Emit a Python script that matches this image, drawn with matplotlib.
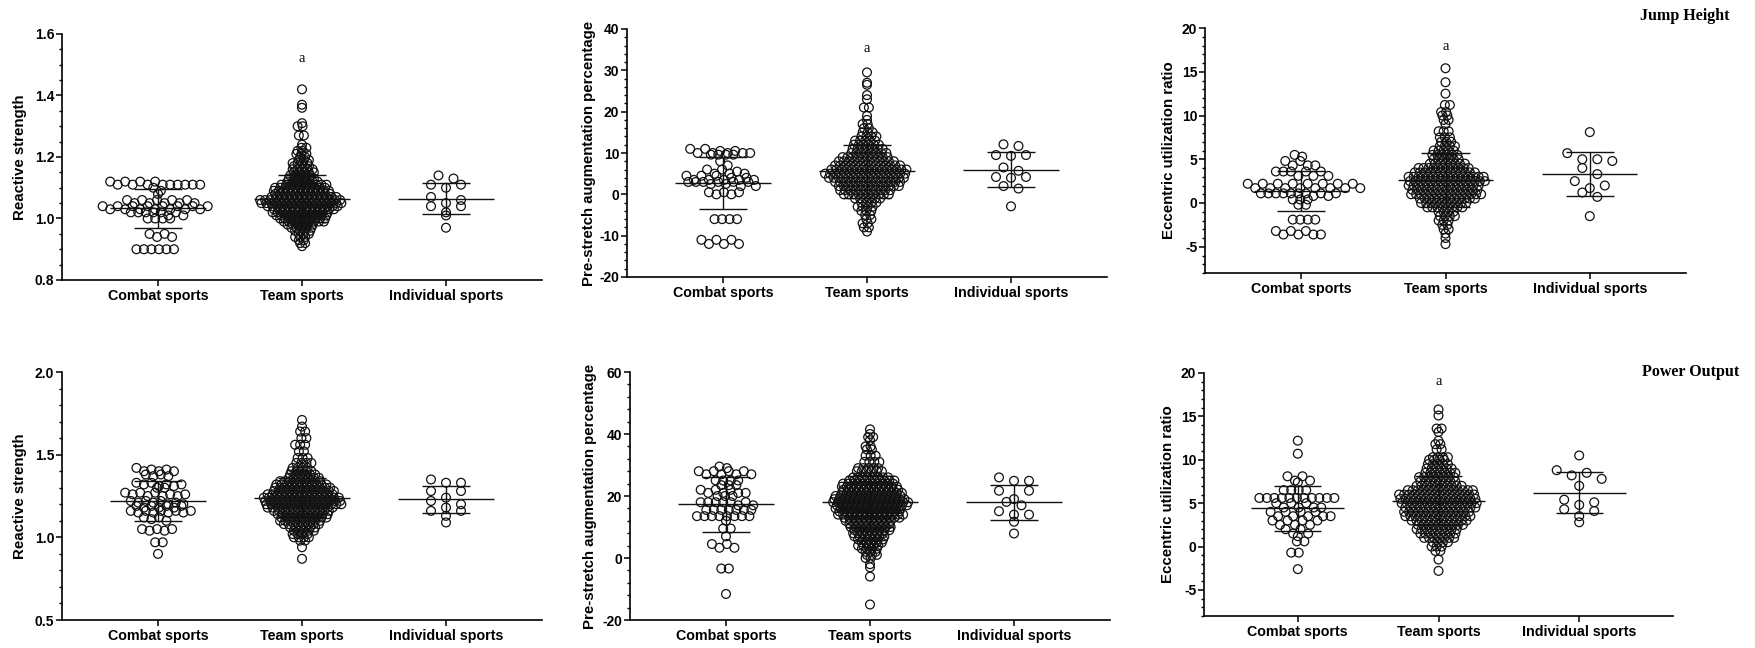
import numpy as np
import matplotlib
matplotlib.use("Agg")
import matplotlib.pyplot as plt
from matplotlib.ticker import MultipleLocator, FixedLocator

plt.rcParams['font.family'] = ['Liberation Sans', 'DejaVu Sans']
plt.rcParams['axes.unicode_minus'] = False

groups = ['Combat sports', 'Team sports', 'Individual sports']

# ---- Jump height: reactive strength ----
rsi_jh_combat_lv = [1.12, 1.11, 1.10, 1.09, 1.08, 1.06, 1.05, 1.04, 1.03, 1.02, 1.01, 1.00, 0.95, 0.94, 0.90]
rsi_jh_combat_n = [4, 9, 1, 1, 1, 5, 5, 8, 7, 6, 2, 4, 2, 2, 6]
rsi_jh_team_lv = [1.42, 1.37, 1.36, 1.31, 1.30, 1.27, 1.24, 1.23, 1.22, 1.21, 1.20, 1.19, 1.18, 1.17,
                  1.16, 1.15, 1.14, 1.13, 1.12, 1.11, 1.10, 1.09, 1.08, 1.07, 1.06, 1.05, 1.04, 1.03,
                  1.02, 1.01, 1.00, 0.99, 0.98, 0.97, 0.96, 0.95, 0.94, 0.93, 0.92, 0.91]
rsi_jh_team_n = [1, 1, 1, 1, 2, 2, 1, 2, 2, 3, 2, 3, 4, 4, 5, 5, 5, 6, 7, 10, 11, 12, 12, 14, 17, 17,
                 15, 13, 12, 11, 10, 9, 6, 5, 4, 3, 3, 2, 2, 1]
rsi_jh_indiv = [1.14, 1.13, 1.11, 1.11, 1.10, 1.07, 1.06, 1.05, 1.04, 1.04, 1.02, 1.01, 0.97]
rsi_jh_mean = [1.033, 1.065, 1.065]
rsi_jh_sd = [0.063, 0.075, 0.050]

# ---- Jump height: pre-stretch augmentation ----
psa_jh_combat_lv = [11, 10.5, 10, 9.6, 8, 7, 6, 5.5, 5, 4.5, 4, 3.5, 3, 2.5, 2, 0.5, 0, -6, -11, -12]
psa_jh_combat_n = [2, 2, 5, 4, 1, 1, 2, 1, 3, 3, 2, 5, 6, 2, 2, 3, 2, 4, 3, 3]
psa_jh_team_lv = [29.5, 27, 26.5, 24, 23, 21, 19, 18, 17, 16, 15, 14, 13, 12, 11, 10, 9, 8, 7, 6, 5, 4,
                  3, 2, 1, 0, -1, -2, -3, -4, -5, -6, -7, -8, -9]
psa_jh_team_n = [1, 1, 1, 1, 1, 2, 1, 1, 2, 2, 3, 4, 5, 6, 7, 8, 10, 12, 14, 16, 17, 16, 14, 13, 11, 10,
                 6, 4, 4, 3, 2, 2, 2, 2, 1]
psa_jh_indiv = [12.1, 11.7, 9.5, 9.5, 9.3, 6.5, 5.7, 4.2, 4.2, 4.0, 2.0, 1.4, -2.9]
psa_jh_mean = [2.75, 5.6, 6.0]
psa_jh_sd = [6.35, 6.4, 4.3]

# ---- Jump height: eccentric utilization ratio ----
eur_jh_combat_lv = [5.5, 5.3, 4.8, 4.3, 3.6, 3.1, 2.2, 1.7, 1.1, 0.8, 0.4, -0.2, -1.9, -3.2, -3.6]
eur_jh_combat_n = [1, 1, 2, 3, 5, 3, 8, 8, 9, 2, 3, 2, 4, 3, 4]
eur_jh_team_lv = [15.4, 13.8, 12.5, 11.2, 10.4, 10, 9.5, 9, 8.2, 7.5, 7, 6.5, 6, 5.5, 5, 4.5, 4, 3.5, 3,
                  2.5, 2, 1.5, 1, 0.5, 0, -0.5, -1, -1.5, -2, -2.5, -3, -3.5, -4, -4.7]
eur_jh_team_n = [1, 1, 1, 2, 2, 2, 2, 1, 3, 3, 3, 4, 5, 6, 6, 8, 11, 13, 16, 16, 15, 14, 15, 12, 10, 8,
                 4, 4, 3, 2, 2, 1, 1, 1]
eur_jh_indiv = [8.1, 5.7, 5.0, 5.0, 4.8, 4.0, 3.3, 2.5, 2.0, 1.7, 1.2, 0.7, -1.5]
eur_jh_mean = [1.35, 2.6, 3.3]
eur_jh_sd = [2.3, 3.1, 2.5]

# ---- Power output: reactive strength ----
rsi_po_combat_lv = [1.42, 1.41, 1.40, 1.38, 1.37, 1.33, 1.32, 1.31, 1.30, 1.27, 1.26, 1.25, 1.22, 1.21,
                    1.20, 1.19, 1.18, 1.16, 1.15, 1.12, 1.11, 1.10, 1.05, 1.04, 0.97, 0.90]
rsi_po_combat_n = [1, 2, 3, 2, 2, 2, 3, 2, 2, 3, 3, 3, 3, 3, 2, 4, 3, 5, 4, 2, 1, 1, 3, 2, 2, 1]
rsi_po_team_lv = [1.71, 1.67, 1.64, 1.60, 1.56, 1.52, 1.48, 1.45, 1.42, 1.40, 1.38, 1.36, 1.34, 1.32,
                  1.30, 1.28, 1.26, 1.24, 1.22, 1.20, 1.18, 1.16, 1.14, 1.12, 1.10, 1.08, 1.06, 1.04,
                  1.02, 1.00, 0.98, 0.94, 0.87]
rsi_po_team_n = [1, 1, 2, 2, 3, 2, 3, 4, 4, 5, 6, 7, 9, 11, 12, 13, 14, 16, 16, 16, 14, 12, 11, 10, 9,
                 8, 6, 5, 4, 4, 2, 1, 1]
rsi_po_indiv = [1.35, 1.33, 1.33, 1.28, 1.28, 1.24, 1.22, 1.20, 1.18, 1.16, 1.16, 1.13, 1.09]
rsi_po_mean = [1.22, 1.24, 1.23]
rsi_po_sd = [0.12, 0.12, 0.08]

# ---- Power output: pre-stretch augmentation ----
psa_po_combat_lv = [29.5, 29, 28, 27, 25, 23.5, 22, 21, 20, 18, 17, 15.5, 13.5, 12, 9.5, 7, 4.5, 3.3,
                    -3.4, -11.6]
psa_po_combat_n = [1, 1, 4, 4, 4, 3, 3, 4, 3, 6, 2, 7, 8, 1, 2, 1, 2, 2, 2, 1]
psa_po_team_lv = [41.5, 40, 39, 38, 36, 35, 33, 31, 29, 28, 26, 25, 24, 23, 22, 21, 20, 19, 18, 17, 16,
                  15, 14, 13, 12, 11, 10, 9, 8, 7, 6, 5, 4, 3, 2, 1, 0, -2, -3, -6, -15]
psa_po_team_n = [1, 1, 2, 1, 2, 2, 3, 4, 5, 6, 8, 10, 11, 12, 12, 13, 14, 15, 16, 15, 14, 13, 14, 12,
                 10, 9, 9, 8, 7, 7, 6, 5, 5, 4, 3, 3, 2, 1, 1, 1, 1]
psa_po_indiv = [26, 24.9, 24.9, 21.7, 21.7, 19, 18.1, 17, 15.1, 14, 14, 11.7, 7.9]
psa_po_mean = [17.3, 18.2, 18.0]
psa_po_sd = [8.9, 8.2, 5.6]

# ---- Power output: eccentric utilization ratio ----
eur_po_combat_lv = [12.2, 10.7, 8.1, 7.6, 7.4, 6.5, 5.6, 5.0, 4.5, 4.0, 3.5, 3.0, 2.5, 2.0, 1.5, 1.2,
                    0.6, -0.7, -2.6]
eur_po_combat_n = [1, 1, 2, 2, 1, 4, 11, 3, 4, 4, 5, 4, 3, 2, 2, 1, 2, 2, 1]
eur_po_team_lv = [15.8, 15.1, 13.6, 13.2, 12.2, 11.8, 11.2, 10.3, 10, 9.5, 9, 8.5, 8, 7.5, 7, 6.5, 6,
                  5.5, 5, 4.5, 4, 3.5, 3, 2.5, 2, 1.5, 1, 0.5, 0, -0.5, -1.5, -2.8]
eur_po_team_n = [1, 1, 2, 1, 1, 2, 2, 4, 4, 5, 6, 7, 8, 8, 10, 14, 16, 16, 16, 15, 14, 14, 12, 10, 9, 8,
                 7, 4, 3, 2, 1, 1]
eur_po_indiv = [10.5, 8.8, 8.5, 8.2, 7.8, 7.0, 5.4, 5.1, 4.8, 4.3, 4.1, 3.5, 2.8]
eur_po_mean = [4.4, 5.3, 6.2]
eur_po_sd = [2.55, 2.8, 2.35]

W, H = 1755, 648


def row_offsets(vals, tol_px, sp_px, ppu_y, stagger):
    # GraphPad-like scatter: values close together share a row, centred on the category
    vals = np.asarray(vals, float)
    xs = np.zeros(len(vals))
    rows, cur, start = [], [], None
    for i in np.argsort(-vals, kind='stable'):
        if cur and (start - vals[i]) * ppu_y > tol_px:
            rows.append(cur)
            cur = []
        if not cur:
            start = vals[i]
        cur.append(i)
    rows.append(cur)
    for r, row in enumerate(rows):
        n = len(row)
        shift = ((r % 4) - 1.5) * sp_px / 4 if (stagger and n > 1) else 0.0
        slots = list(range(0, n, 2)) + list(range(1, n, 2))
        for k, i in enumerate(row):
            xs[i] = (slots[k] - (n - 1) / 2) * sp_px + shift
    return xs


def panel(box, ylim, major, minor, ylabel, label_dx, combat, team, indiv, means, sds, ticks=None,
          mark=None):
    x0, y0, x1, y1 = box
    ax = fig.add_axes([x0 / W, 1 - y1 / H, (x1 - x0) / W, (y1 - y0) / H])
    xlim = (-2 / 3, 8 / 3)
    ax.set_xlim(*xlim)
    ax.set_ylim(*ylim)
    ppu_y = (y1 - y0) / (ylim[1] - ylim[0])
    ppu_x = (x1 - x0) / (xlim[1] - xlim[0])
    data = [np.repeat(combat[0], combat[1]), np.repeat(team[0], team[1]), np.asarray(indiv, float)]
    layout = [(4.5, 7.5, True), (1.0, 5.0, True), (9.0, 15.0, False)]
    for i, v in enumerate(data):
        tol, sp, stg = layout[i]
        off = row_offsets(v, tol, sp, ppu_y, stg) / ppu_x
        ax.scatter(i + off, v, s=40, facecolors='none', edgecolors='#111111', linewidths=0.9, zorder=3)
    for i in range(3):
        m, s = means[i], sds[i]
        ax.hlines(m, i - 0.33, i + 0.33, color='#111111', lw=1.0, zorder=4)
        ax.hlines([m - s, m + s], i - 0.167, i + 0.167, color='#111111', lw=1.0, zorder=4)
        ax.vlines(i, m - s, m + s, color='#111111', lw=1.0, zorder=4)
    for sp in ['top', 'right']:
        ax.spines[sp].set_visible(False)
    for sp in ['left', 'bottom']:
        ax.spines[sp].set_linewidth(1.2)
    ax.set_xticks(range(3))
    ax.set_xticklabels(groups, fontsize=10.3, fontweight='bold')
    if ticks is not None:
        ax.yaxis.set_major_locator(FixedLocator(ticks))
    else:
        ax.yaxis.set_major_locator(MultipleLocator(major))
    ax.yaxis.set_minor_locator(MultipleLocator(minor))
    ax.tick_params(axis='y', which='major', length=4, width=1.1, labelsize=10, pad=1.5)
    ax.tick_params(axis='y', which='minor', length=2.2, width=1.0)
    ax.tick_params(axis='x', length=4, width=1.1, pad=2.5)
    for t in ax.get_yticklabels():
        t.set_fontweight('bold')
    ax.set_ylabel(ylabel, fontsize=10.8, fontweight='bold', va='center')
    ax.yaxis.set_label_coords(label_dx / (x1 - x0), 0.5)
    if mark is not None:
        ax.text(1, mark, 'a', ha='center', va='center', fontsize=10.5, family='Liberation Serif')
    return ax


fig = plt.figure(figsize=(W / 100, H / 100), dpi=100)

panel((62, 34, 542, 280), (0.8, 1.6), 0.2, 0.05, 'Reactive strength', -42,
      (rsi_jh_combat_lv, rsi_jh_combat_n), (rsi_jh_team_lv, rsi_jh_team_n), rsi_jh_indiv,
      rsi_jh_mean, rsi_jh_sd, mark=1.52)
panel((627, 29, 1107, 277), (-20, 40), 10, 2, 'Pre-stretch augmentation percentage', -38,
      (psa_jh_combat_lv, psa_jh_combat_n), (psa_jh_team_lv, psa_jh_team_n), psa_jh_indiv,
      psa_jh_mean, psa_jh_sd, mark=35.2)
panel((1205, 28, 1686, 273), (-8, 20), 5, 1, 'Eccentric utilization ratio', -36,
      (eur_jh_combat_lv, eur_jh_combat_n), (eur_jh_team_lv, eur_jh_team_n), eur_jh_indiv,
      eur_jh_mean, eur_jh_sd, ticks=[-5, 0, 5, 10, 15, 20], mark=17.9)
panel((62, 372, 542, 620), (0.5, 2.0), 0.5, 0.1, 'Reactive strength', -42,
      (rsi_po_combat_lv, rsi_po_combat_n), (rsi_po_team_lv, rsi_po_team_n), rsi_po_indiv,
      rsi_po_mean, rsi_po_sd)
panel((630, 372, 1110, 620), (-20, 60), 20, 4, 'Pre-stretch augmentation percentage', -40,
      (psa_po_combat_lv, psa_po_combat_n), (psa_po_team_lv, psa_po_team_n), psa_po_indiv,
      psa_po_mean, psa_po_sd)
panel((1204, 373, 1673, 616), (-8, 20), 5, 1, 'Eccentric utilization ratio', -36,
      (eur_po_combat_lv, eur_po_combat_n), (eur_po_team_lv, eur_po_team_n), eur_po_indiv,
      eur_po_mean, eur_po_sd, ticks=[-5, 0, 5, 10, 15, 20], mark=19.0)

fig.text(1729 / W, 1 - 16 / H, 'Jump Height', ha='right', va='center', fontsize=11.5,
         fontweight='bold', family='Liberation Serif')
fig.text(1739 / W, 1 - 372 / H, 'Power Output', ha='right', va='center', fontsize=11.5,
         fontweight='bold', family='Liberation Serif')

fig.savefig('out.png', dpi=100)
